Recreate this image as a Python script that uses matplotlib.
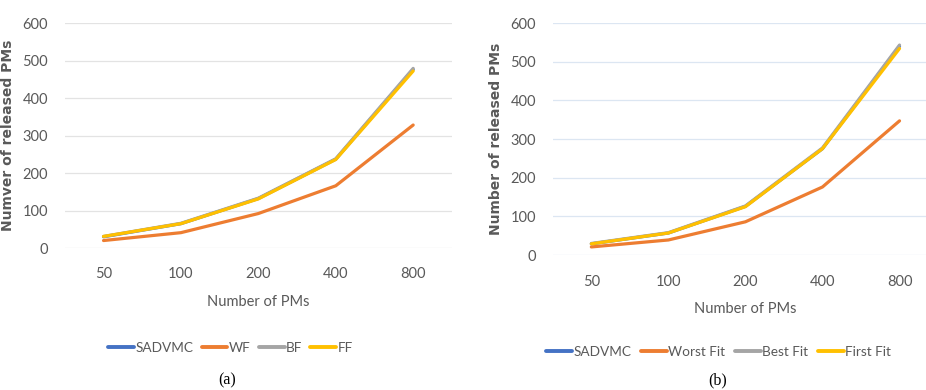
import matplotlib
matplotlib.use("Agg")
import matplotlib.pyplot as plt

categories = ["50", "100", "200", "400", "800"]
yticks = [0, 100, 200, 300, 400, 500, 600]

# Panel (a)
a_sadvmc = [30, 65, 132, 237, 476]
a_wf = [20, 41, 92, 166, 328]
a_bf = [31, 66, 133, 238, 479]
a_ff = [31, 65, 131, 236, 472]
a_labels = ["SADVMC", "WF", "BF", "FF"]

# Panel (b)
b_sadvmc = [29, 57, 126, 275, 540]
b_wf = [21, 39, 86, 176, 347]
b_bf = [30, 58, 127, 277, 543]
b_ff = [29, 57, 125, 275, 534]
b_labels = ["SADVMC", "Worst Fit", "Best Fit", "First Fit"]

colors = ["#4472C4", "#ED7D31", "#A5A5A5", "#FFC000"]
txt = "#595959"
font = ["Lato", "DejaVu Sans"]

fig = plt.figure(figsize=(9.26, 3.9), dpi=100)

def panel(rect, series, labels, ylabel, grid_color, legend_xy, cap, cap_xy, ylab_x, colsp):
    ax = fig.add_axes(rect)
    x = list(range(len(categories)))
    for s, lab, c in zip(series, labels, colors):
        ax.plot(x, s, color=c, lw=2.3, label=lab, solid_capstyle="round")
    ax.set_xlim(-0.5, 4.5)
    ax.set_ylim(0, 600)
    ax.set_yticks(yticks)
    ax.set_xticks(x)
    ax.set_xticklabels(categories)
    ax.grid(axis="y", color=grid_color, lw=0.9)
    ax.set_axisbelow(True)
    for sp in ax.spines.values():
        sp.set_visible(False)
    ax.tick_params(length=0, colors=txt, labelsize=10.5)
    ax.tick_params(axis="x", pad=14)
    ax.tick_params(axis="y", pad=12)
    for t in ax.get_xticklabels() + ax.get_yticklabels():
        t.set_family(font)
    ax.set_xlabel("Number of PMs", color=txt, fontsize=10.5, family=font, labelpad=10)
    ax.set_ylabel(ylabel, color=txt, fontsize=10, family="DejaVu Sans", fontweight="bold")
    ax.yaxis.set_label_coords(ylab_x, 0.5)
    leg = fig.legend(handles=ax.get_lines(), labels=labels, loc="center",
                     bbox_to_anchor=legend_xy, ncol=4, frameon=False,
                     handlelength=1.9, handletextpad=0.1, columnspacing=colsp,
                     prop={"family": font, "size": 9.8})
    for t in leg.get_texts():
        t.set_color(txt)
    for l in leg.get_lines():
        l.set_linewidth(2.8)
    fig.text(cap_xy[0], cap_xy[1], cap, ha="center", va="center",
             family="Liberation Serif", fontsize=11.5)
    return ax

panel([0.070, 0.364, 0.418, 0.577],
      [a_sadvmc, a_wf, a_bf, a_ff], a_labels,
      "Numver of released PMs", "#E3E3E3", (0.249, 0.108), "(a)", (0.245, 0.025), -0.13, 0.6)
panel([0.597, 0.346, 0.416, 0.595],
      [b_sadvmc, b_wf, b_bf, b_ff], b_labels,
      "Number of released PMs", "#DCE6F2", (0.776, 0.097), "(b)", (0.775, 0.025), -0.13, 0.7)

fig.savefig("out.png", dpi=100)
